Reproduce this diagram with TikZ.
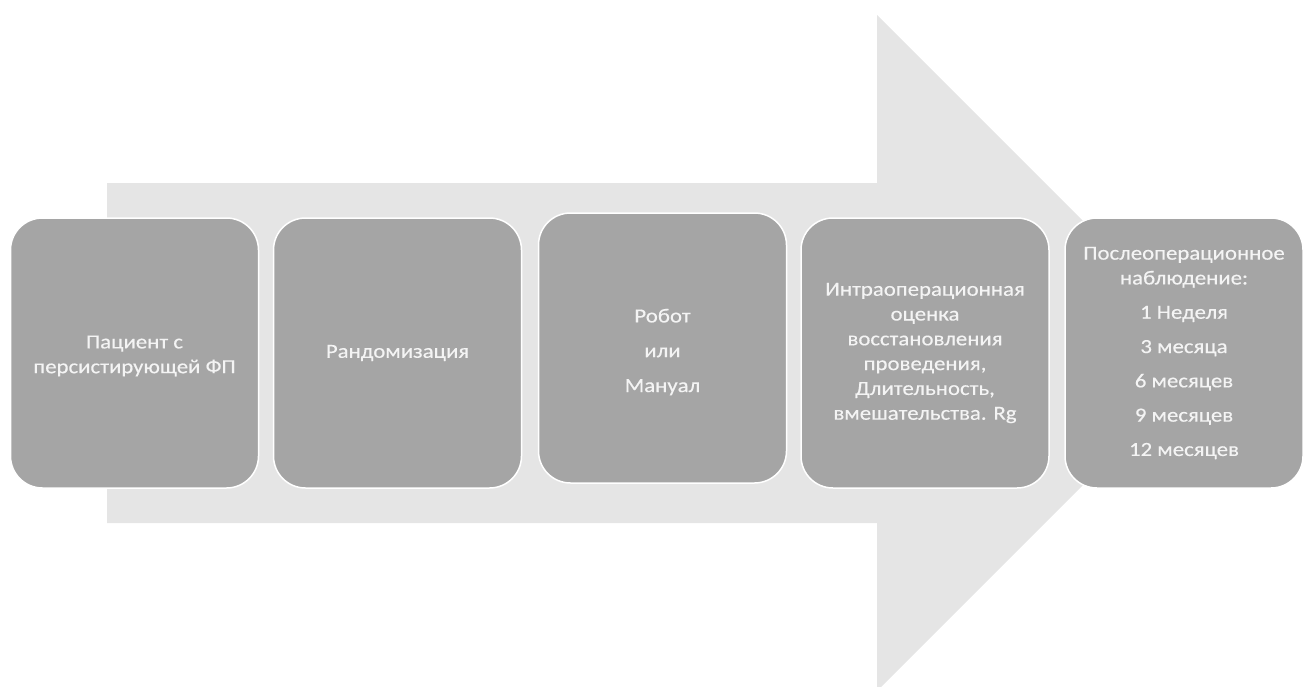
\documentclass[tikz,border=0pt]{standalone}
\usepackage{fontspec}
\setmainfont{Carlito}[FakeStretch=1.14,FakeBold=0.4]
\definecolor{arrowgray}{HTML}{E5E5E5}
\definecolor{boxgray}{HTML}{A5A5A5}
\definecolor{txtgray}{HTML}{F4F4F4}
\begin{document}
\begin{tikzpicture}[x=1pt,y=-1pt,
  stagebox/.style={rectangle, rounded corners=32pt, fill=boxgray, draw=white,
    line width=1.5pt, text=txtgray, align=center, minimum width=248pt,
    minimum height=270pt, inner sep=0pt,
    font=\fontsize{20}{24.8}\selectfont},
  stagetext/.style={text=txtgray, align=center, inner sep=0pt,
    font=\fontsize{20}{24.8}\selectfont}]
\useasboundingbox (0,0) rectangle (1304,686);
\clip (0,0) rectangle (1304,686);
\fill[arrowgray] (107,183) -- (877,183) -- (877,15) -- (1215,353) -- (877,691)
  -- (877,523) -- (107,523) -- cycle;
\node[stagebox] (b1) at (134.5,353) {};
\node[stagetext] (b1t) at (134.5,356) {Пациент с\\персистирующей ФП};
\node[stagebox] (b2) at (397.5,353) {Рандомизация};
\node[stagebox] (b3) at (662.5,348) {};
\node[stagetext] (b3t) at (662.5,352) {Робот\\[10pt]или\\[10pt]Мануал};
\node[stagebox] (b4) at (925,353) {Интраоперационная\\оценка\\восстановления\\проведения,\\Длительность,\\вмешательства. Rg};
\node[stagebox, minimum width=238pt] (b5) at (1184,353) {Послеоперационное\\наблюдение:\\[9.5pt]1 Неделя\\[9.5pt]3 месяца\\[9.5pt]6 месяцев\\[9.5pt]9 месяцев\\[9.5pt]12 месяцев};
\end{tikzpicture}
\end{document}
